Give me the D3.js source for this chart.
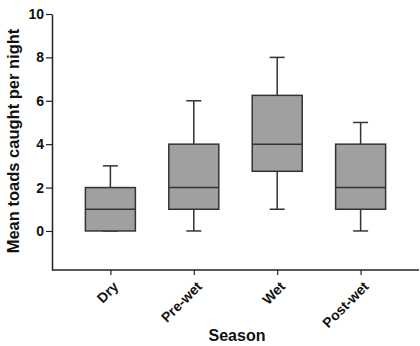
<!DOCTYPE html>
<html>
<head>
<meta charset="utf-8">
<script src="https://cdn.jsdelivr.net/npm/d3@7"></script>
<style>
  body { margin: 0; background: #fff; }
  svg text { font-family: "Liberation Sans", Arial, sans-serif; font-weight: bold; }
</style>
</head>
<body>
<div id="chart"></div>
<script>
// box plot summary per season
var seasons = ['Dry', 'Pre-wet', 'Wet', 'Post-wet'];
var mins    = [0, 0, 1, 0];
var q1s     = [0, 1, 2.75, 1];
var medians = [1, 2, 4, 2];
var q3s     = [2, 4, 6.25, 4];
var maxs    = [3, 6, 8, 5];
var yTicks  = [0, 2, 4, 6, 8, 10];

var width = 420, height = 346;
var margin = {top: 14, left: 52, right: 1, bottom: 76};

var svg = d3.select('#chart').append('svg')
    .attr('width', width)
    .attr('height', height);

var x = d3.scalePoint()
    .domain(seasons)
    .range([margin.left, width - margin.right])
    .padding(0.7);

var y = d3.scaleLinear()
    .domain([-1.8, 10])
    .range([height - margin.bottom, margin.top]);

var data = seasons.map((s, i) => ({
    name: s, min: mins[i], q1: q1s[i], med: medians[i], q3: q3s[i], max: maxs[i]
}));

var boxW = 50, capW = 15;
var stroke = '#333';

var g = svg.append('g').selectAll('g')
    .data(data).enter().append('g');

// whiskers
g.append('line')
    .attr('x1', d => x(d.name)).attr('x2', d => x(d.name))
    .attr('y1', d => y(d.max)).attr('y2', d => y(d.q3))
    .attr('stroke', stroke).attr('stroke-width', 1.5);
g.append('line')
    .attr('x1', d => x(d.name)).attr('x2', d => x(d.name))
    .attr('y1', d => y(d.q1)).attr('y2', d => y(d.min))
    .attr('stroke', stroke).attr('stroke-width', 1.5);
// caps
g.append('line')
    .attr('x1', d => x(d.name) - capW / 2).attr('x2', d => x(d.name) + capW / 2)
    .attr('y1', d => y(d.max)).attr('y2', d => y(d.max))
    .attr('stroke', stroke).attr('stroke-width', 1.5);
g.append('line')
    .attr('x1', d => x(d.name) - capW / 2).attr('x2', d => x(d.name) + capW / 2)
    .attr('y1', d => y(d.min)).attr('y2', d => y(d.min))
    .attr('stroke', stroke).attr('stroke-width', 1.5);
// box
g.append('rect')
    .attr('x', d => x(d.name) - boxW / 2)
    .attr('width', boxW)
    .attr('y', d => y(d.q3))
    .attr('height', d => y(d.q1) - y(d.q3))
    .attr('fill', '#a0a0a0')
    .attr('stroke', stroke).attr('stroke-width', 1.5);
// median
g.append('line')
    .attr('x1', d => x(d.name) - boxW / 2).attr('x2', d => x(d.name) + boxW / 2)
    .attr('y1', d => y(d.med)).attr('y2', d => y(d.med))
    .attr('stroke', stroke).attr('stroke-width', 1.5);

// axes
var yAxis = svg.append('g')
    .attr('transform', 'translate(' + margin.left + ',0)')
    .call(d3.axisLeft(y).tickValues(yTicks).tickSize(6).tickPadding(2).tickSizeOuter(0));
yAxis.select('.domain').attr('stroke', '#222').attr('stroke-width', 1.5);
yAxis.selectAll('.tick line').attr('stroke', '#222').attr('stroke-width', 1.2);
yAxis.selectAll('text')
    .style('font-size', '14px').attr('fill', '#111');

var xAxis = svg.append('g')
    .attr('transform', 'translate(0,' + (height - margin.bottom) + ')')
    .call(d3.axisBottom(x).tickSize(5).tickSizeOuter(0));
xAxis.select('.domain').attr('stroke', '#222').attr('stroke-width', 1.5)
    .attr('d', 'M' + margin.left + ',0H' + (width - margin.right));
xAxis.selectAll('.tick line').attr('stroke', '#222').attr('stroke-width', 1.2);
xAxis.selectAll('text')
    .style('font-size', '14px').attr('fill', '#111')
    .attr('text-anchor', 'end')
    .attr('y', 0)
    .attr('dy', '0.35em')
    .attr('transform', 'translate(5,14) rotate(-45)');

// titles
svg.append('text')
    .attr('transform', 'translate(19,141) rotate(-90)')
    .attr('text-anchor', 'middle')
    .style('font-size', '16.5px')
    .attr('fill', '#111')
    .text('Mean toads caught per night');

svg.append('text')
    .attr('x', 237)
    .attr('y', 341)
    .attr('text-anchor', 'middle')
    .style('font-size', '16px')
    .attr('fill', '#111')
    .text('Season');
</script>
</body>
</html>
